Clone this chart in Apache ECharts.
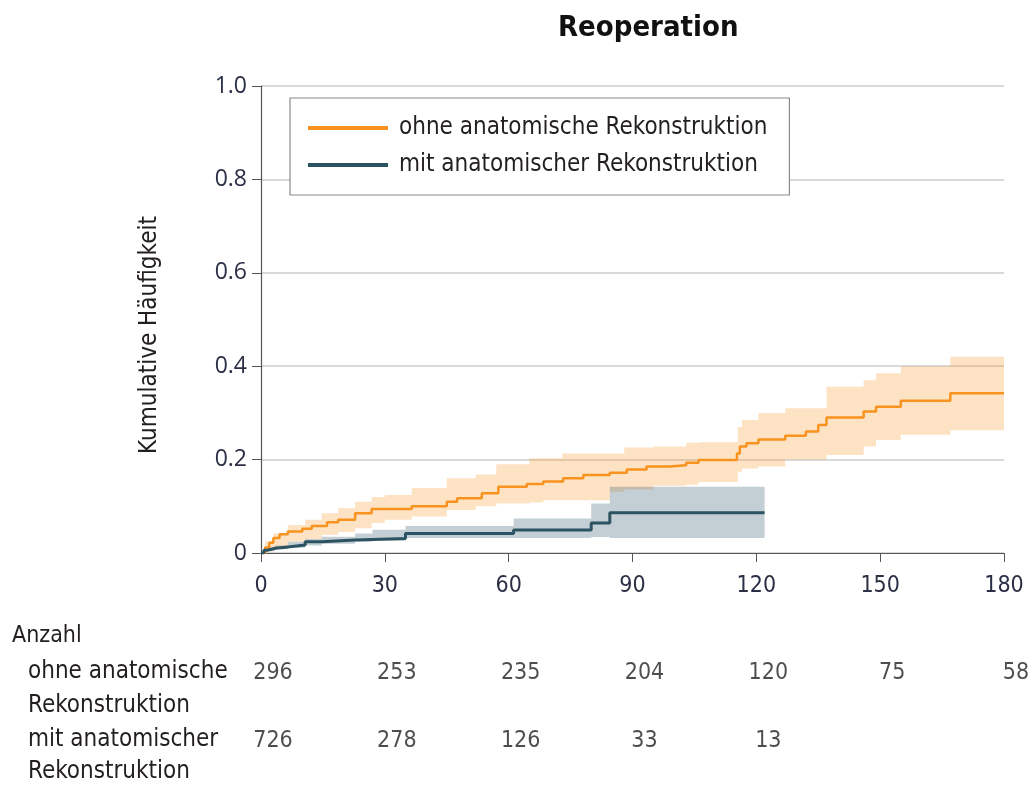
<!DOCTYPE html>
<html><head><meta charset="utf-8">
<script src="https://cdn.jsdelivr.net/npm/echarts@6/dist/echarts.min.js"></script>
<style>html,body{margin:0;padding:0;background:#fff}#c{width:1033px;height:788px}</style>
</head><body><div id="c"></div>
<script>
// ---- data ----
const xTicks = [0, 30, 60, 90, 120, 150, 180];
const seriesNames = ['ohne anatomische Rekonstruktion', 'mit anatomischer Rekonstruktion'];

const ohneT = [0, 1, 2, 3, 4.5, 6.5, 10, 12.3, 16, 18.7, 22.8, 26.8, 36.5, 45, 47.5, 53.5, 57.5, 64.4, 68.4, 73.2, 78.1, 84.5, 88.6, 93.4, 99, 103, 106, 115.3, 116, 117.6, 120.5, 127, 132, 135, 137, 146, 149, 155, 167, 180];
const ohneV = [0, 0.012, 0.022, 0.032, 0.04, 0.046, 0.052, 0.058, 0.066, 0.071, 0.085, 0.094, 0.1, 0.11, 0.117, 0.128, 0.142, 0.148, 0.153, 0.16, 0.167, 0.172, 0.179, 0.185, 0.188, 0.193, 0.199, 0.213, 0.228, 0.235, 0.243, 0.251, 0.26, 0.274, 0.29, 0.303, 0.313, 0.326, 0.342, 0.342];

const ohneBandT = [0, 1, 3, 6.5, 10.7, 14.7, 18.7, 22.8, 26.8, 30, 36.5, 45, 52, 57, 65, 68.4, 73, 84.5, 88, 95, 103, 106, 115.5, 116.5, 120.5, 127, 137, 146, 149, 155, 167, 180];
const ohneHi = [0, 0.025, 0.042, 0.06, 0.071, 0.085, 0.096, 0.11, 0.12, 0.124, 0.139, 0.16, 0.168, 0.19, 0.203, 0.203, 0.213, 0.213, 0.226, 0.228, 0.236, 0.237, 0.27, 0.285, 0.3, 0.31, 0.356, 0.37, 0.385, 0.4, 0.42, 0.42];
const ohneLo = [0, 0.004, 0.01, 0.024, 0.03, 0.039, 0.045, 0.053, 0.064, 0.071, 0.078, 0.092, 0.1, 0.106, 0.108, 0.113, 0.113, 0.131, 0.136, 0.144, 0.146, 0.152, 0.174, 0.181, 0.185, 0.2, 0.21, 0.228, 0.242, 0.253, 0.263, 0.263];

const mitT = [0, 0.7, 1.5, 3.4, 6.5, 10.7, 14.7, 22.8, 35, 61.2, 80, 84.5, 122];
const mitV = [0, 0.006, 0.01, 0.013, 0.017, 0.024, 0.028, 0.031, 0.042, 0.049, 0.064, 0.086, 0.086];

const mitBandT = [0, 1.5, 3.4, 6.5, 10.7, 14.7, 22.8, 27, 35, 61.2, 80, 84.5, 122];
const mitHi = [0, 0.01, 0.016, 0.024, 0.03, 0.035, 0.042, 0.05, 0.058, 0.074, 0.106, 0.142, 0.142];
const mitLo = [0, 0.004, 0.008, 0.011, 0.016, 0.02, 0.024, 0.026, 0.032, 0.032, 0.034, 0.032, 0.032];

const riskT = [0, 30, 60, 90, 120, 150, 180];
const riskOhne = [296, 253, 235, 204, 120, 75, 58];
const riskMit = [726, 278, 126, 33, 13];

// ---- styling ----
const COND = "'Liberation Sans Narrow', 'DejaVu Sans Condensed', 'Roboto', sans-serif";
const TXT = '#231f20';
const ORANGE = '#f7931e';
const DARK = '#2c5361';

const zip = (a, b) => a.map((t, i) => [t, b[i]]);

// step-band polygon drawn through the axis scales
function bandSeries(T, lo, hi, color) {
  return {
    type: 'custom', xAxisIndex: 0, yAxisIndex: 0, silent: true, z: 1,
    data: T.map((t, i) => [t, lo[i], hi[i]]),
    renderItem: function (params, api) {
      if (params.dataIndex !== 0) return null;
      const up = [], down = [];
      for (let i = 0; i < T.length; i++) {
        const tn = i < T.length - 1 ? T[i + 1] : T[i];
        up.push(api.coord([T[i], hi[i]]), api.coord([tn, hi[i]]));
        down.push(api.coord([T[i], lo[i]]), api.coord([tn, lo[i]]));
      }
      const pts = up.concat(down.reverse());
      return {type: 'polygon', shape: {points: pts}, style: {fill: color, stroke: null}};
    }
  };
}

const chart = echarts.init(document.getElementById('c'), null, {renderer: 'canvas'});
chart.setOption({
  animation: false,
  title: {
    text: 'Reoperation', left: 553, top: 9,
    textStyle: {fontFamily: COND, fontSize: 29, fontWeight: 'bold', color: '#111'}
  },
  legend: {
    data: seriesNames, orient: 'vertical', left: 290, top: 98,
    padding: [18, 22, 18, 18], itemGap: 13,
    borderColor: '#8a8a8a', borderWidth: 1.2, backgroundColor: '#fff',
    icon: 'rect', itemWidth: 80, itemHeight: 4,
    textStyle: {fontFamily: COND, fontSize: 24, color: TXT, padding: [0, 0, 0, 6]}
  },
  grid: [
    {left: 261, right: 29, top: 86, bottom: 235},
    {left: 261, right: 29, top: 673, height: 68}
  ],
  xAxis: [
    {
      type: 'value', gridIndex: 0, min: 0, max: 180, interval: 30,
      axisLine: {lineStyle: {color: '#555', width: 1.2}},
      axisTick: {show: true, length: 9, lineStyle: {color: '#555'}},
      axisLabel: {fontFamily: COND, fontSize: 23, color: '#2a2f45', margin: 22},
      splitLine: {show: false}
    },
    {type: 'value', gridIndex: 1, min: 0, max: 180, show: false}
  ],
  yAxis: [
    {
      type: 'value', gridIndex: 0, min: 0, max: 1, interval: 0.2,
      axisLine: {show: true, lineStyle: {color: '#555', width: 1.2}},
      axisTick: {show: true, length: 9, lineStyle: {color: '#555'}},
      axisLabel: {fontFamily: "'Open Sans', sans-serif", fontSize: 23, color: '#2a2f45', margin: 14,
        formatter: v => v === 0 ? '0' : v.toFixed(1)},
      splitLine: {show: true, lineStyle: {color: '#d9d9d9', width: 2}}
    },
    {type: 'value', gridIndex: 1, min: 0, max: 1, inverse: true, show: false}
  ],
  series: [
    bandSeries(ohneBandT, ohneLo, ohneHi, 'rgba(250,160,60,0.30)'),
    bandSeries(mitBandT, mitLo, mitHi, 'rgba(60,95,115,0.30)'),
    {type: 'line', name: seriesNames[0], xAxisIndex: 0, yAxisIndex: 0, step: 'end', symbol: 'none', z: 3,
      data: zip(ohneT, ohneV), color: ORANGE, lineStyle: {color: ORANGE, width: 2.5}},
    {type: 'line', name: seriesNames[1], xAxisIndex: 0, yAxisIndex: 0, step: 'end', symbol: 'none', z: 3,
      data: zip(mitT, mitV), color: DARK, lineStyle: {color: DARK, width: 3}},
    {type: 'scatter', xAxisIndex: 1, yAxisIndex: 1, symbolSize: 0, silent: true,
      data: riskT.map((t, i) => [t, 0, riskOhne[i]]).concat(riskMit.map((n, i) => [riskT[i], 1, n])),
      label: {show: true, position: 'inside', offset: [12, 0], formatter: p => String(p.value[2]),
        fontFamily: COND, fontSize: 23, color: TXT}}
  ],
  graphic: [
    {type: 'text', x: 150, y: 335, rotation: Math.PI / 2,
      style: {text: 'Kumulative Häufigkeit', font: "24px " + COND, fill: TXT, align: 'center', verticalAlign: 'middle'}},
    {type: 'text', left: 12, top: 625, style: {text: 'Anzahl', font: "23px " + COND, fill: TXT}},
    {type: 'text', left: 28, top: 660, style: {text: 'ohne anatomische', font: "24px " + COND, fill: TXT}},
    {type: 'text', left: 28, top: 694, style: {text: 'Rekonstruktion', font: "24px " + COND, fill: TXT}},
    {type: 'text', left: 28, top: 728, style: {text: 'mit anatomischer', font: "24px " + COND, fill: TXT}},
    {type: 'text', left: 28, top: 760, style: {text: 'Rekonstruktion', font: "24px " + COND, fill: TXT}}
  ]
});
</script></body></html>
